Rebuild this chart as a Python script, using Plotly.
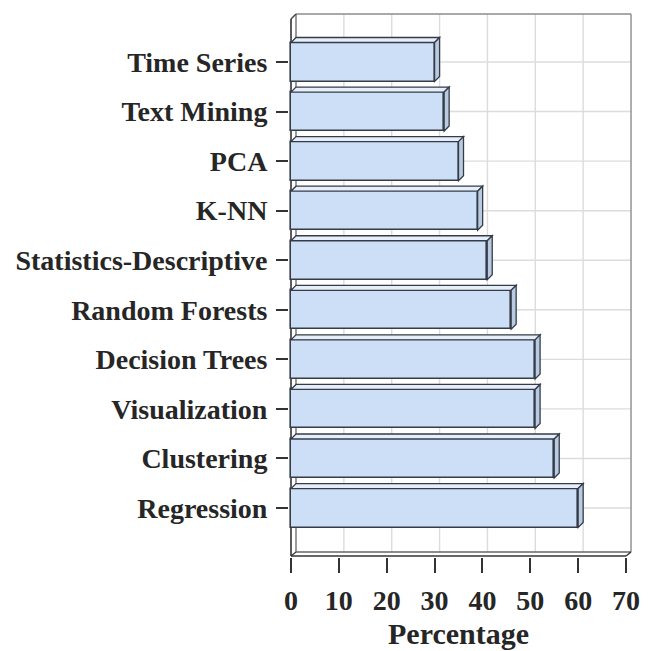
import plotly.graph_objects as go

# Usage of analytics methods (percentage of respondents), top to bottom
methods = ["Time Series", "Text Mining", "PCA", "K-NN", "Statistics-Descriptive",
           "Random Forests", "Decision Trees", "Visualization", "Clustering", "Regression"]
percent = [30, 32, 35, 39, 41, 46, 51, 51, 55, 60]
x_ticks = [0, 10, 20, 30, 40, 50, 60, 70]

W, H = 654, 651
# plot-area geometry in pixels
L, R, T, B = 289, 640, 4, 557
X0_PX, PX_PER_X = 291.0, 4.786      # pixel of x=0, pixels per unit
Y0_PX, PX_PER_Y = 62.0, 49.56       # pixel of first category, pixels per category

def xu(px):
    return (px - X0_PX) / PX_PER_X

def yu(px):
    return (px - Y0_PX) / PX_PER_Y

DX = 5 / PX_PER_X          # depth offset of the 3-D box (to the right)
DY = 5 / PX_PER_Y          # depth offset of the 3-D box (upwards)
BAR_W = 39 / PX_PER_Y
XMAX = x_ticks[-1]

FRONT = "#cddff6"
TOP = "#e6eef9"
SIDE = "#b9cbe3"
EDGE = "#353c48"
GRID = "#dcdcdc"
WALL = "#8c8c8c"
FONT = "Liberation Serif"
INK = "#262626"

idx = list(range(len(methods)))

fig = go.Figure()
fig.add_trace(go.Bar(
    x=percent, y=idx, orientation="h", width=BAR_W,
    marker=dict(color=FRONT, line=dict(color=EDGE, width=1.6)),
    hoverinfo="skip", showlegend=False,
))

shapes = []
top_back = yu(14)
bottom_back = yu(552)
bottom_front = yu(556)
front_top = top_back + DY

def line(x0, y0, x1, y1, color, width, layer="below"):
    shapes.append(dict(type="line", xref="x", yref="y", x0=x0, y0=y0, x1=x1, y1=y1,
                       line=dict(color=color, width=width), layer=layer))

# back-wall grid
for k in x_ticks[1:-1]:
    line(k + DX, top_back, k + DX, bottom_back, GRID, 1.4)
for i in idx:
    line(DX, i, XMAX + DX, i, GRID, 1.4)

# box outline: back wall, left wall and floor
line(DX, top_back, XMAX + DX, top_back, WALL, 1.4)
line(XMAX + DX, top_back, XMAX + DX, bottom_back, WALL, 1.4)
line(DX, top_back, DX, bottom_back, "#666666", 1.3)
line(DX, bottom_back, XMAX + DX, bottom_back, "#666666", 1.3)
line(0, front_top, DX, top_back, "#444444", 1.4)
line(0, front_top, 0, bottom_front, "#333333", 1.6)
line(0, bottom_front, XMAX, bottom_front, "#333333", 1.6)
line(XMAX, bottom_front, XMAX + DX, bottom_back, "#333333", 1.4)
line(0, bottom_front, DX, bottom_back, "#333333", 1.2)

# top and side faces of each bar
for i, v in zip(idx, percent):
    yt = i - BAR_W / 2
    yb = i + BAR_W / 2
    top_path = (f"M 0,{yt} L {v},{yt} L {v + DX},{yt - DY} L {DX},{yt - DY} Z")
    side_path = (f"M {v},{yt} L {v + DX},{yt - DY} L {v + DX},{yb - DY} L {v},{yb} Z")
    shapes.append(dict(type="path", xref="x", yref="y", path=top_path,
                       fillcolor=TOP, line=dict(color=EDGE, width=1.3), layer="above"))
    shapes.append(dict(type="path", xref="x", yref="y", path=side_path,
                       fillcolor=SIDE, line=dict(color=EDGE, width=1.3), layer="above"))

fig.update_layout(
    width=W, height=H,
    margin=dict(l=L, r=W - R, t=T, b=H - B, autoexpand=False),
    paper_bgcolor="white", plot_bgcolor="white",
    bargap=0,
    shapes=shapes,
    font=dict(family=FONT, color=INK),
    xaxis=dict(
        range=[xu(L), xu(R)], tickvals=x_ticks, ticktext=[str(t) for t in x_ticks],
        showgrid=False, zeroline=False, showline=False,
        ticks="outside", ticklen=15, tickwidth=1.6, tickcolor="#333333",
        tickfont=dict(family=FONT, size=28, color=INK, weight="bold"),
        ticklabelstandoff=3,
    ),
    yaxis=dict(
        range=[yu(B), yu(T)], tickvals=idx, ticktext=methods,
        showgrid=False, zeroline=False, showline=False,
        ticks="outside", ticklen=12, tickwidth=1.6, tickcolor="#333333",
        tickfont=dict(family=FONT, size=28, color=INK, weight="bold"),
        ticklabelstandoff=3,
    ),
    annotations=[dict(
        text="<b>Percentage</b>", x=XMAX / 2, xref="x",
        y=-(633 - B) / (B - T), yref="paper",
        showarrow=False, yanchor="middle", xanchor="center",
        font=dict(family=FONT, size=30, color=INK),
    )],
)

fig.write_html("out.html")
